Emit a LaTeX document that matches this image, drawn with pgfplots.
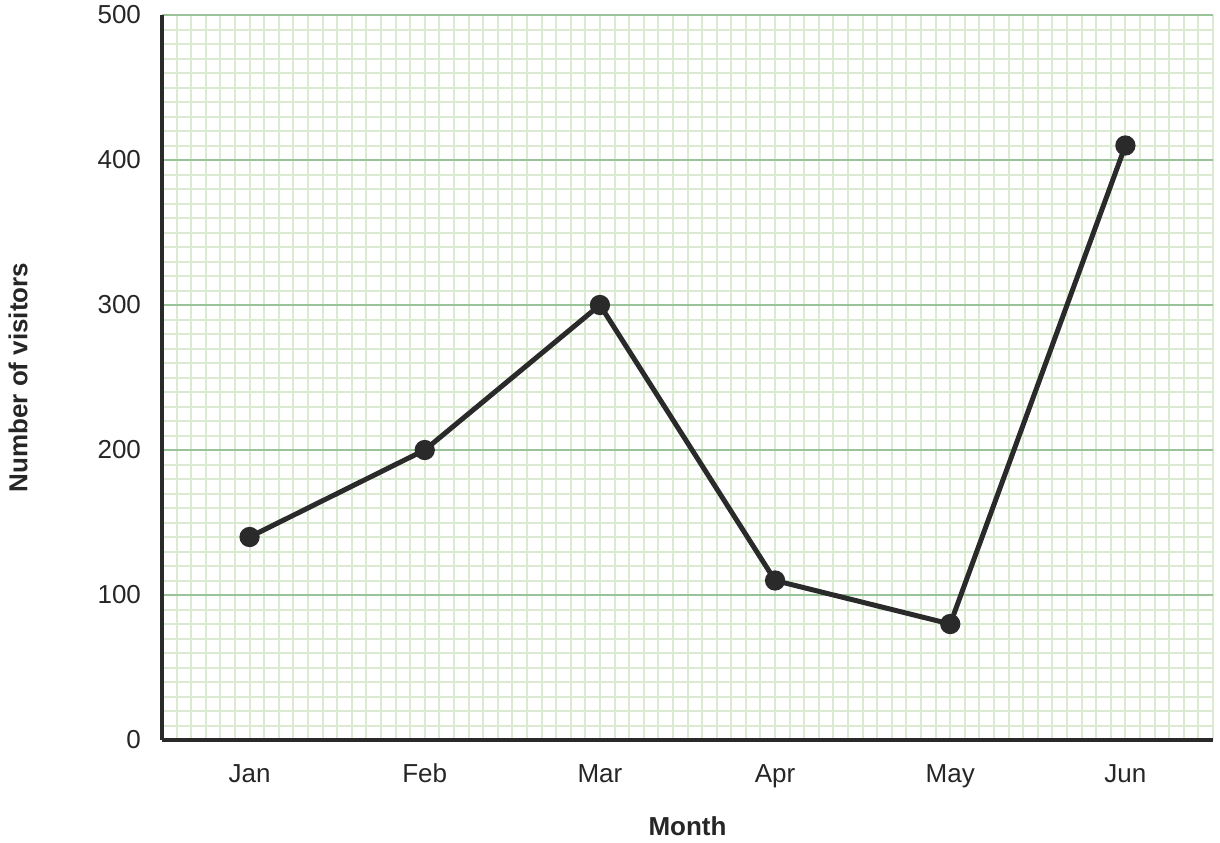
\documentclass[border=0pt]{standalone}
\usepackage{pgfplots}
\pgfplotsset{compat=1.18}
\usepackage{fontspec}
\setmainfont{Liberation Sans}
\definecolor{minorgrid}{HTML}{DAEBD1}
\definecolor{majorgrid}{HTML}{9AC39A}
\definecolor{linec}{HTML}{2A2A2A}
\begin{document}
\begin{tikzpicture}
\begin{axis}[
  scale only axis,
  width=525.5pt, height=362.5pt,
  xmin=-0.5, xmax=5.5, ymin=0, ymax=500,
  enlargelimits=false,
  axis x line=bottom, axis y line=left,
  axis line style={-, line width=2pt, draw=linec},
  xtick={0,1,2,3,4,5},
  xticklabels={Jan,Feb,Mar,Apr,May,Jun},
  minor xtick={-0.5,-0.4166667,...,5.51},
  ytick={0,100,200,300,400,500},
  minor ytick={0,10,...,500},
  major tick length=0pt, minor tick length=0pt,
  xmajorgrids=false, xminorgrids=true,
  ymajorgrids=true, yminorgrids=true,
  minor grid style={draw=minorgrid, line width=1pt},
  major grid style={draw=majorgrid, line width=1.3pt},
  /pgf/number format/assume math mode=true,
  ticklabel style={font=\fontsize{13pt}{15pt}\selectfont, text=black!85},
  xticklabel style={anchor=north, yshift=-8pt, text height=9.5pt, text depth=2.5pt},
  yticklabel style={xshift=-7pt},
  xlabel={Month}, ylabel={Number of visitors},
  label style={font=\fontsize{13pt}{15pt}\selectfont\bfseries, text=black!85},
  xlabel style={at={(axis description cs:0.5,-0.1186)}, anchor=center},
  ylabel style={at={(axis description cs:-0.137,0.5)}, anchor=center},
]
\addplot[linec, line width=2.5pt, mark=*, mark size=3.8pt, mark options={fill=linec, draw=linec}]
  coordinates {(0,140) (1,200) (2,300) (3,110) (4,80) (5,410)};
\end{axis}
\pgfresetboundingbox
\path (-81pt,-51pt) rectangle (529pt,370pt);
\end{tikzpicture}
\end{document}
